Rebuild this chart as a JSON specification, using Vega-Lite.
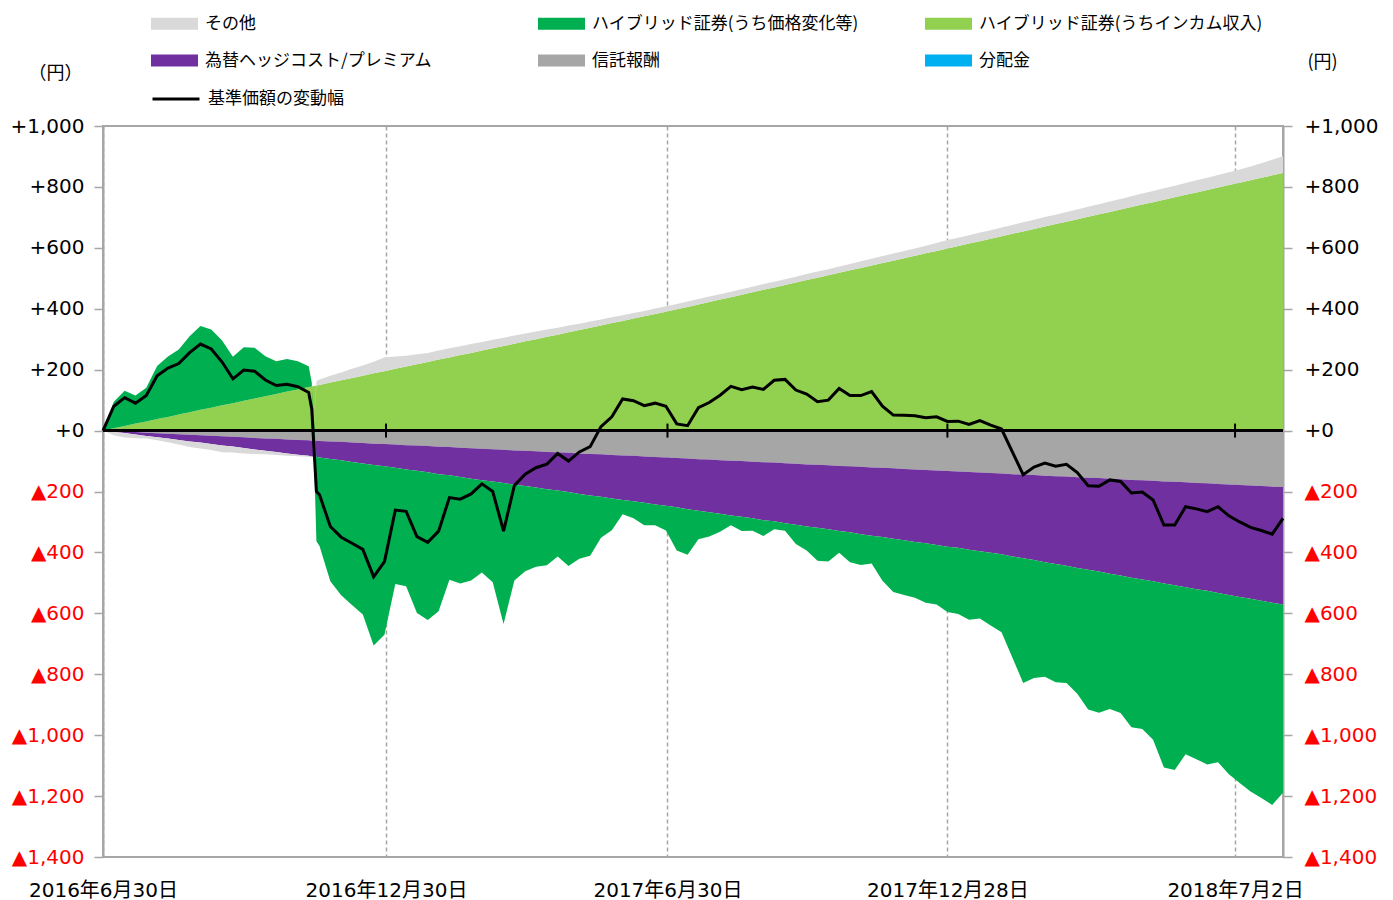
{
"$schema": "https://vega.github.io/schema/vega-lite/v6.json",
"width": 1180, "height": 731,
"autosize": {"type": "none"},
"padding": {"left": 103, "top": 126, "right": 110, "bottom": 43},
"background": "white",
"config": {"view": {"stroke": "#A6A6A6", "strokeWidth": 2}, "font": "DejaVu Sans"},
"data": {"values": [
{"t":"2016-06-30","a":0,"b":0,"c":0,"d":0,"e":0,"n":0},
{"t":"2016-07-07","a":8,"b":-2,"c":-3,"d":87,"e":-10,"n":80},
{"t":"2016-07-14","a":15,"b":-3,"c":-5,"d":116,"e":-15,"n":108},
{"t":"2016-07-21","a":23,"b":-5,"c":-8,"d":92,"e":-12,"n":90},
{"t":"2016-07-28","a":30,"b":-7,"c":-11,"d":111,"e":-8,"n":115},
{"t":"2016-08-04","a":38,"b":-9,"c":-13,"d":174,"e":-10,"n":180},
{"t":"2016-08-11","a":45,"b":-10,"c":-16,"d":198,"e":-12,"n":205},
{"t":"2016-08-18","a":53,"b":-12,"c":-19,"d":213,"e":-15,"n":220},
{"t":"2016-08-25","a":60,"b":-14,"c":-22,"d":250,"e":-18,"n":256},
{"t":"2016-09-01","a":68,"b":-15,"c":-24,"d":275,"e":-20,"n":284},
{"t":"2016-09-08","a":75,"b":-17,"c":-27,"d":257,"e":-20,"n":268},
{"t":"2016-09-15","a":83,"b":-19,"c":-30,"d":213,"e":-22,"n":225},
{"t":"2016-09-22","a":90,"b":-20,"c":-32,"d":152,"e":-20,"n":170},
{"t":"2016-09-29","a":98,"b":-22,"c":-35,"d":176,"e":-18,"n":199},
{"t":"2016-10-06","a":105,"b":-24,"c":-38,"d":167,"e":-15,"n":195},
{"t":"2016-10-13","a":113,"b":-26,"c":-40,"d":131,"e":-12,"n":166},
{"t":"2016-10-20","a":120,"b":-27,"c":-43,"d":108,"e":-10,"n":148},
{"t":"2016-10-27","a":128,"b":-29,"c":-46,"d":107,"e":-8,"n":152},
{"t":"2016-11-03","a":135,"b":-31,"c":-48,"d":93,"e":-5,"n":144},
{"t":"2016-11-10","a":143,"b":-32,"c":-51,"d":68,"e":-3,"n":125},
{"t":"2016-11-12","a":145,"b":-33,"c":-52,"d":13,"e":-3,"n":70},
{"t":"2016-11-15","a":148,"b":-33,"c":-53,"d":-277,"e":15,"n":-200},
{"t":"2016-11-17","a":150,"b":-34,"c":-54,"d":-291,"e":18,"n":-211},
{"t":"2016-11-24","a":158,"b":-36,"c":-57,"d":-402,"e":22,"n":-315},
{"t":"2016-12-01","a":165,"b":-37,"c":-60,"d":-444,"e":26,"n":-350},
{"t":"2016-12-08","a":173,"b":-39,"c":-64,"d":-470,"e":30,"n":-370},
{"t":"2016-12-15","a":180,"b":-41,"c":-67,"d":-496,"e":34,"n":-390},
{"t":"2016-12-22","a":188,"b":-43,"c":-70,"d":-593,"e":38,"n":-480},
{"t":"2016-12-29","a":195,"b":-44,"c":-73,"d":-553,"e":45,"n":-430},
{"t":"2017-01-05","a":203,"b":-46,"c":-76,"d":-382,"e":40,"n":-261},
{"t":"2017-01-12","a":210,"b":-48,"c":-80,"d":-383,"e":36,"n":-265},
{"t":"2017-01-19","a":218,"b":-49,"c":-83,"d":-467,"e":33,"n":-348},
{"t":"2017-01-26","a":225,"b":-51,"c":-86,"d":-485,"e":30,"n":-367},
{"t":"2017-02-02","a":233,"b":-53,"c":-90,"d":-450,"e":30,"n":-330},
{"t":"2017-02-09","a":240,"b":-54,"c":-93,"d":-343,"e":30,"n":-220},
{"t":"2017-02-16","a":248,"b":-56,"c":-96,"d":-350,"e":29,"n":-225},
{"t":"2017-02-23","a":255,"b":-58,"c":-100,"d":-334,"e":29,"n":-208},
{"t":"2017-03-02","a":263,"b":-60,"c":-103,"d":-303,"e":28,"n":-175},
{"t":"2017-03-09","a":270,"b":-61,"c":-106,"d":-331,"e":28,"n":-200},
{"t":"2017-03-16","a":278,"b":-63,"c":-109,"d":-463,"e":27,"n":-330},
{"t":"2017-03-23","a":285,"b":-65,"c":-113,"d":-314,"e":27,"n":-180},
{"t":"2017-03-30","a":293,"b":-66,"c":-116,"d":-280,"e":26,"n":-143},
{"t":"2017-04-06","a":300,"b":-68,"c":-119,"d":-260,"e":25,"n":-122},
{"t":"2017-04-13","a":308,"b":-70,"c":-123,"d":-249,"e":24,"n":-110},
{"t":"2017-04-20","a":315,"b":-71,"c":-126,"d":-216,"e":23,"n":-75},
{"t":"2017-04-27","a":323,"b":-73,"c":-129,"d":-243,"e":22,"n":-100},
{"t":"2017-05-04","a":330,"b":-75,"c":-133,"d":-213,"e":21,"n":-70},
{"t":"2017-05-11","a":338,"b":-77,"c":-136,"d":-198,"e":20,"n":-53},
{"t":"2017-05-18","a":345,"b":-78,"c":-139,"d":-135,"e":20,"n":13},
{"t":"2017-05-25","a":353,"b":-80,"c":-143,"d":-104,"e":19,"n":45},
{"t":"2017-06-01","a":360,"b":-82,"c":-146,"d":-47,"e":19,"n":104},
{"t":"2017-06-08","a":368,"b":-83,"c":-149,"d":-56,"e":18,"n":98},
{"t":"2017-06-15","a":375,"b":-85,"c":-152,"d":-74,"e":18,"n":82},
{"t":"2017-06-22","a":383,"b":-87,"c":-156,"d":-68,"e":18,"n":90},
{"t":"2017-06-29","a":390,"b":-88,"c":-159,"d":-81,"e":18,"n":80},
{"t":"2017-07-06","a":398,"b":-90,"c":-162,"d":-142,"e":18,"n":22},
{"t":"2017-07-13","a":406,"b":-92,"c":-166,"d":-150,"e":18,"n":16},
{"t":"2017-07-20","a":414,"b":-94,"c":-169,"d":-94,"e":18,"n":75},
{"t":"2017-07-27","a":422,"b":-95,"c":-173,"d":-80,"e":18,"n":92},
{"t":"2017-08-03","a":430,"b":-97,"c":-176,"d":-59,"e":18,"n":116},
{"t":"2017-08-10","a":438,"b":-99,"c":-180,"d":-32,"e":18,"n":145},
{"t":"2017-08-17","a":446,"b":-100,"c":-183,"d":-47,"e":18,"n":134},
{"t":"2017-08-24","a":454,"b":-102,"c":-186,"d":-41,"e":18,"n":143},
{"t":"2017-08-31","a":462,"b":-104,"c":-190,"d":-52,"e":19,"n":135},
{"t":"2017-09-07","a":470,"b":-105,"c":-193,"d":-26,"e":19,"n":165},
{"t":"2017-09-14","a":478,"b":-107,"c":-197,"d":-25,"e":19,"n":168},
{"t":"2017-09-21","a":486,"b":-109,"c":-200,"d":-63,"e":19,"n":133},
{"t":"2017-09-28","a":494,"b":-111,"c":-204,"d":-79,"e":20,"n":120},
{"t":"2017-10-05","a":502,"b":-112,"c":-207,"d":-108,"e":20,"n":95},
{"t":"2017-10-12","a":510,"b":-114,"c":-210,"d":-106,"e":20,"n":100},
{"t":"2017-10-19","a":518,"b":-116,"c":-214,"d":-71,"e":21,"n":138},
{"t":"2017-10-26","a":526,"b":-117,"c":-217,"d":-98,"e":21,"n":115},
{"t":"2017-11-02","a":534,"b":-119,"c":-221,"d":-101,"e":22,"n":115},
{"t":"2017-11-09","a":542,"b":-121,"c":-224,"d":-91,"e":22,"n":128},
{"t":"2017-11-16","a":550,"b":-122,"c":-227,"d":-144,"e":23,"n":80},
{"t":"2017-11-23","a":558,"b":-124,"c":-231,"d":-175,"e":23,"n":51},
{"t":"2017-11-30","a":566,"b":-126,"c":-234,"d":-180,"e":24,"n":50},
{"t":"2017-12-07","a":574,"b":-128,"c":-238,"d":-183,"e":24,"n":49},
{"t":"2017-12-14","a":582,"b":-129,"c":-241,"d":-195,"e":25,"n":42},
{"t":"2017-12-21","a":590,"b":-131,"c":-245,"d":-195,"e":26,"n":45},
{"t":"2017-12-28","a":598,"b":-133,"c":-248,"d":-215,"e":28,"n":30},
{"t":"2018-01-04","a":606,"b":-134,"c":-251,"d":-217,"e":27,"n":31},
{"t":"2018-01-11","a":614,"b":-136,"c":-255,"d":-230,"e":27,"n":20},
{"t":"2018-01-18","a":622,"b":-138,"c":-258,"d":-221,"e":28,"n":33},
{"t":"2018-01-25","a":630,"b":-139,"c":-262,"d":-239,"e":28,"n":18},
{"t":"2018-02-01","a":638,"b":-141,"c":-265,"d":-256,"e":29,"n":5},
{"t":"2018-02-08","a":646,"b":-143,"c":-270,"d":-332,"e":29,"n":-70},
{"t":"2018-02-15","a":654,"b":-145,"c":-274,"d":-410,"e":30,"n":-145},
{"t":"2018-02-22","a":662,"b":-146,"c":-279,"d":-387,"e":30,"n":-120},
{"t":"2018-03-01","a":670,"b":-148,"c":-284,"d":-376,"e":31,"n":-107},
{"t":"2018-03-08","a":678,"b":-150,"c":-288,"d":-388,"e":31,"n":-117},
{"t":"2018-03-15","a":686,"b":-151,"c":-293,"d":-385,"e":32,"n":-111},
{"t":"2018-03-22","a":694,"b":-153,"c":-298,"d":-413,"e":32,"n":-138},
{"t":"2018-03-29","a":702,"b":-155,"c":-302,"d":-459,"e":33,"n":-181},
{"t":"2018-04-05","a":710,"b":-156,"c":-307,"d":-463,"e":33,"n":-183},
{"t":"2018-04-12","a":718,"b":-158,"c":-312,"d":-444,"e":34,"n":-162},
{"t":"2018-04-19","a":726,"b":-160,"c":-316,"d":-451,"e":34,"n":-167},
{"t":"2018-04-26","a":734,"b":-162,"c":-321,"d":-491,"e":35,"n":-205},
{"t":"2018-05-03","a":742,"b":-163,"c":-326,"d":-491,"e":36,"n":-202},
{"t":"2018-05-10","a":750,"b":-165,"c":-330,"d":-520,"e":37,"n":-228},
{"t":"2018-05-17","a":758,"b":-167,"c":-335,"d":-604,"e":38,"n":-310},
{"t":"2018-05-24","a":766,"b":-168,"c":-340,"d":-606,"e":38,"n":-310},
{"t":"2018-05-31","a":774,"b":-170,"c":-344,"d":-549,"e":39,"n":-250},
{"t":"2018-06-07","a":782,"b":-172,"c":-349,"d":-558,"e":40,"n":-257},
{"t":"2018-06-14","a":790,"b":-173,"c":-353,"d":-570,"e":40,"n":-266},
{"t":"2018-06-21","a":798,"b":-175,"c":-358,"d":-556,"e":41,"n":-250},
{"t":"2018-06-28","a":806,"b":-177,"c":-363,"d":-588,"e":42,"n":-280},
{"t":"2018-07-05","a":814,"b":-179,"c":-367,"d":-611,"e":43,"n":-300},
{"t":"2018-07-12","a":822,"b":-180,"c":-372,"d":-633,"e":45,"n":-318},
{"t":"2018-07-19","a":830,"b":-182,"c":-377,"d":-647,"e":48,"n":-328},
{"t":"2018-07-26","a":838,"b":-184,"c":-381,"d":-664,"e":51,"n":-340},
{"t":"2018-08-02","a":846,"b":-185,"c":-386,"d":-618,"e":55,"n":-288}
]},
"layer": [
{
"transform": [{"fold": ["a","b","c","d","e"], "as": ["key","val"]}],
"mark": {"type": "area", "opacity": 1, "interpolate": "linear"},
"encoding": {
"x": {"field": "t", "type": "temporal", "title": null,
 "scale": {"type": "utc", "domain": [{"year":2016,"month":6,"date":30,"utc":true},{"year":2018,"month":8,"date":2,"utc":true}]},
 "axis": {"values": [{"year":2016,"month":6,"date":30,"utc":true},{"year":2016,"month":12,"date":30,"utc":true},{"year":2017,"month":6,"date":30,"utc":true},{"year":2017,"month":12,"date":28,"utc":true},{"year":2018,"month":7,"date":2,"utc":true}],
  "labelExpr": "utcFormat(datum.value, '%Y年%-m月%-d日')",
  "ticks": false, "domain": false, "grid": true, "gridDash": [4,3], "gridColor": "#A6A6A6", "gridWidth": 1.5,
  "labelFontSize": 20, "labelFont": "'DejaVu Sans', 'Noto Sans CJK JP'", "labelColor": "black", "labelPadding": 23,
  "labelOverlap": false, "labelFlush": false}},
"y": {"field": "val", "type": "quantitative", "stack": "zero",
 "scale": {"domain": [-1400, 1000], "nice": false, "zero": false},
 "axis": {"orient": "left", "values": [-1400,-1200,-1000,-800,-600,-400,-200,0,200,400,600,800,1000],
  "title": "（円）", "titleAngle": 0, "titleX": -48, "titleY": -53, "titleAlign": "center", "titleBaseline": "middle",
  "titleFont": "Noto Sans CJK JP", "titleFontSize": 18, "titleFontWeight": "normal", "titleColor": "black",
  "grid": false, "domainColor": "#A6A6A6", "domainWidth": 2, "tickColor": "#A6A6A6", "tickSize": 9, "tickWidth": 1.5,
  "labelFontSize": 20, "labelFont": "DejaVu Sans", "labelPadding": 10,
  "labelExpr": "datum.value > 0 ? '+' + format(datum.value, ',') : (datum.value == 0 ? '+0' : '▲' + format(-datum.value, ','))",
  "labelColor": {"condition": {"test": "datum.value < 0", "value": "#FF0000"}, "value": "black"}}},
"color": {"field": "key", "type": "nominal",
 "scale": {"domain": ["e","d","a","c","b","f"], "range": ["#D9D9D9","#00B050","#92D050","#7030A0","#A6A6A6","#00B0F0"]},
 "legend": {"orient": "none", "legendX": 48, "legendY": -126, "direction": "horizontal", "columns": 3, "gridAlign": "all", "columnPadding": 49, "rowPadding": 5,
  "title": null, "symbolType": "M-1,-0.255L1,-0.255L1,0.255L-1,0.255Z", "symbolSize": 2209, "symbolStrokeWidth": 0, "symbolOpacity": 1,
  "labelFont": "Noto Sans CJK JP", "labelFontSize": 17, "labelColor": "black", "labelOffset": 7, "labelLimit": 500,
  "labelExpr": "{'a':'ハイブリッド証券(うちインカム収入)','b':'信託報酬','c':'為替ヘッジコスト/プレミアム','d':'ハイブリッド証券(うち価格変化等)','e':'その他','f':'分配金'}[datum.label]"}},
"order": {"field": "key", "sort": "ascending"}
}
},
{
"mark": {"type": "rule", "color": "black", "strokeWidth": 2},
"encoding": {"y": {"datum": 0, "type": "quantitative", "axis": null, "scale": {"domain": [-1400, 1000], "nice": false}}}
},
{
"data": {"values": [{"g":"2016-12-30"},{"g":"2017-06-30"},{"g":"2017-12-28"},{"g":"2018-07-02"}]},
"mark": {"type": "rule", "color": "black", "strokeWidth": 2},
"encoding": {
"x": {"field": "g", "type": "temporal", "title": null, "scale": {"type": "utc", "domain": [{"year":2016,"month":6,"date":30,"utc":true},{"year":2018,"month":8,"date":2,"utc":true}]}},
"y": {"datum": 23, "type": "quantitative", "axis": null, "scale": {"domain": [-1400, 1000], "nice": false}},
"y2": {"datum": -23}
}
},
{
"mark": {"type": "line", "strokeWidth": 3, "interpolate": "linear"},
"encoding": {
"x": {"field": "t", "type": "temporal", "title": null, "scale": {"type": "utc", "domain": [{"year":2016,"month":6,"date":30,"utc":true},{"year":2018,"month":8,"date":2,"utc":true}]}},
"y": {"field": "n", "type": "quantitative",
 "scale": {"domain": [-1400, 1000], "nice": false, "zero": false},
 "axis": {"orient": "right", "values": [-1400,-1200,-1000,-800,-600,-400,-200,0,200,400,600,800,1000],
  "title": "(円)", "titleAngle": 0, "titleX": 39, "titleY": -64, "titleAlign": "center", "titleBaseline": "middle",
  "titleFont": "Noto Sans CJK JP", "titleFontSize": 18, "titleFontWeight": "normal", "titleColor": "black",
  "grid": false, "domainColor": "#A6A6A6", "domainWidth": 2, "tickColor": "#A6A6A6", "tickSize": 9, "tickWidth": 1.5,
  "labelFontSize": 20, "labelFont": "DejaVu Sans", "labelPadding": 12,
  "labelExpr": "datum.value > 0 ? '+' + format(datum.value, ',') : (datum.value == 0 ? '+0' : '▲' + format(-datum.value, ','))",
  "labelColor": {"condition": {"test": "datum.value < 0", "value": "#FF0000"}, "value": "black"}}},
"stroke": {"datum": "基準価額の変動幅", "scale": {"range": ["black"]},
 "legend": {"orient": "none", "legendX": 48, "legendY": -52, "title": null, "symbolType": "stroke", "symbolSize": 2209, "symbolStrokeWidth": 3,
  "labelFont": "Noto Sans CJK JP", "labelFontSize": 17, "labelColor": "black", "labelOffset": 7}}
}
}
],
"resolve": {"axis": {"y": "independent"}}
}
